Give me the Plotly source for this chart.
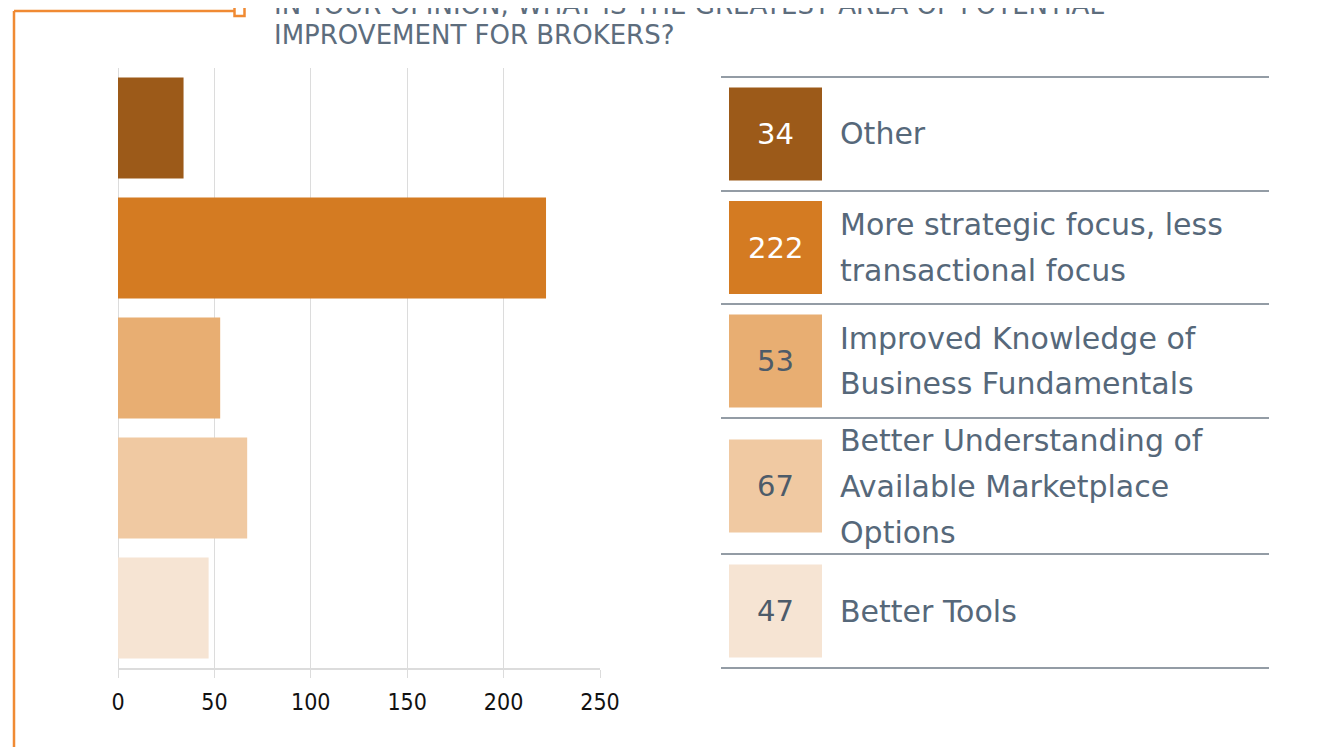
import plotly.graph_objects as go

# data
categories = [
    "Other",
    "More strategic focus, less transactional focus",
    "Improved Knowledge of Business Fundamentals",
    "Better Understanding of Available Marketplace Options",
    "Better Tools",
]
label_lines = [
    ["Other"],
    ["More strategic focus, less", "transactional focus"],
    ["Improved Knowledge of", "Business Fundamentals"],
    ["Better Understanding of", "Available Marketplace", "Options"],
    ["Better Tools"],
]
values = [34, 222, 53, 67, 47]
bar_colors = ["#9c5a19", "#d47b22", "#e8ae72", "#f0c9a2", "#f6e4d3"]
number_colors = ["#ffffff", "#ffffff", "#4d5b69", "#4d5b69", "#4d5b69"]
tick_values = [0, 50, 100, 150, 200, 250]

title_lines = [
    "IN YOUR OPINION, WHAT IS THE GREATEST AREA OF POTENTIAL",
    "IMPROVEMENT FOR BROKERS?",
]

# the page body adds an 8px margin, so work in screen pixels and shift back
OFF = 8
W, H = 1343, 747
ML, MT = 118 - OFF, 68 - OFF
MR = W - (600 - OFF)
MB = H - (668 - OFF)
PW, PH = W - ML - MR, H - MT - MB


def px(x):
    return (x - OFF - ML) / PW


def py(y):
    return (H - MB - (y - OFF)) / PH


ORANGE = "#f08a33"
TEXT = "#56687a"
SANS = "DejaVu Sans, Verdana, sans-serif"
COND = "DejaVu Sans Condensed, Arial Narrow, sans-serif"

fig = go.Figure()
fig.add_trace(
    go.Bar(
        x=values,
        y=categories,
        orientation="h",
        marker=dict(color=bar_colors, line=dict(width=0)),
        hoverinfo="x+y",
    )
)

shapes = []
annotations = []

# orange bracket
shapes.append(dict(type="line", xref="paper", yref="paper", x0=px(14), x1=px(14),
                   y0=py(11), y1=py(780), line=dict(color=ORANGE, width=2.5)))
shapes.append(dict(type="line", xref="paper", yref="paper", x0=px(14), x1=px(234),
                   y0=py(11), y1=py(11), line=dict(color=ORANGE, width=2.5)))
shapes.append(dict(type="rect", xref="paper", yref="paper", x0=px(234.5), x1=px(244.5),
                   y0=py(6), y1=py(16), fillcolor="white",
                   line=dict(color=ORANGE, width=2.5)))

# title
for i, t in enumerate(title_lines):
    annotations.append(dict(text=t, xref="paper", yref="paper", x=px(272), y=py(5 + 30 * i),
                            xanchor="left", yanchor="middle", showarrow=False,
                            font=dict(family=SANS, size=26, color="#5d6d7d")))

# legend table
row_edges = [77, 191, 304, 418, 554, 668]
for ye in row_edges:
    shapes.append(dict(type="line", xref="paper", yref="paper", x0=px(721), x1=px(1269),
                       y0=py(ye), y1=py(ye), line=dict(color="#6f7b87", width=1.5)))

for i, (v, c) in enumerate(zip(values, bar_colors)):
    yc = (row_edges[i] + row_edges[i + 1]) / 2
    shapes.append(dict(type="rect", xref="paper", yref="paper", x0=px(729), x1=px(822),
                       y0=py(yc - 46.5), y1=py(yc + 46.5), fillcolor=c, line=dict(width=0)))
    annotations.append(dict(text=str(v), xref="paper", yref="paper", x=px(775.5), y=py(yc),
                            xanchor="center", yanchor="middle", showarrow=False,
                            font=dict(family=SANS, size=29, color=number_colors[i])))
    lines = label_lines[i]
    n = len(lines)
    for j, ln in enumerate(lines):
        yl = yc + (j - (n - 1) / 2) * 46
        annotations.append(dict(text=ln, xref="paper", yref="paper", x=px(838), y=py(yl),
                                xanchor="left", yanchor="middle", showarrow=False,
                                font=dict(family=SANS, size=30, color=TEXT)))

fig.update_layout(
    width=W,
    height=H,
    margin=dict(l=ML, r=MR, t=MT, b=MB, pad=0),
    paper_bgcolor="white",
    plot_bgcolor="white",
    showlegend=False,
    bargap=0.16,
    shapes=shapes,
    annotations=annotations,
    xaxis=dict(
        range=[0, 250],
        tickvals=tick_values,
        showgrid=True,
        gridcolor="#dcdcdc",
        gridwidth=1,
        zeroline=True,
        zerolinecolor="#dcdcdc",
        zerolinewidth=1,
        showline=True,
        linecolor="#dcdcdc",
        linewidth=2,
        ticks="outside",
        ticklen=8,
        tickcolor="#dcdcdc",
        ticklabelstandoff=4,
        tickfont=dict(family=COND, size=23, color="#111111"),
        fixedrange=True,
    ),
    yaxis=dict(
        autorange="reversed",
        showticklabels=False,
        showgrid=False,
        showline=False,
        ticks="",
        fixedrange=True,
    ),
)

fig.write_html("out.html")
